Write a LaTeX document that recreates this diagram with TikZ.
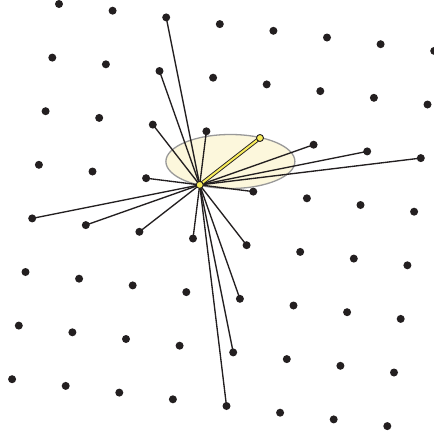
\documentclass[tikz,border=0pt]{standalone}
\begin{document}
\begin{tikzpicture}[x=1pt,y=-1pt,
  dot/.style={circle,fill=dotc,inner sep=0pt,minimum size=8pt},
  ydot/.style={circle,fill=yel,draw=dotc,line width=0.9pt,inner sep=0pt,minimum size=7pt},
  ray/.style={draw=dotc,line width=1.35pt},
  yray/.style={draw=dotc,double=yel,line width=0.9pt,double distance=2pt},
  halo/.style={fill=ellfill,draw=ellline,line width=1.3pt}]
\definecolor{dotc}{HTML}{231F20}
\definecolor{yel}{HTML}{F7EC5A}
\definecolor{ellfill}{HTML}{FCF7DC}
\definecolor{ellline}{HTML}{999999}
\useasboundingbox (0,0) rectangle (434,437);
\clip (0,0) rectangle (434,437);
\foreach \i in {0,...,7}{
  \foreach \j in {0,...,7}{
    \coordinate (p-\i-\j) at ({59+53.6*\i-6.7*\j},{4+6.7*\i+53.6*\j});
  }
}
\path[halo] (230.4,161.5) ellipse [x radius=64.5, y radius=27];
\foreach \a/\b in {2/0,2/1,2/2,3/2,2/3,0/4,1/4,2/4,3/4,4/4,4/5,4/6,4/7,4/3,5/2,6/2,7/2}{
  \draw[ray] (p-3-3) -- (p-\a-\b);
}
\draw[yray] (p-3-3) -- (p-4-2);
\foreach \i in {0,...,7}{
  \foreach \j in {0,...,7}{
    \ifnum\i\j=33\else\ifnum\i\j=42\else
      \node[dot] (d-\i-\j) at (p-\i-\j) {};
    \fi\fi
  }
}
\node[ydot] (c) at (p-3-3) {};
\node[ydot] (e) at (p-4-2) {};
\end{tikzpicture}
\end{document}
